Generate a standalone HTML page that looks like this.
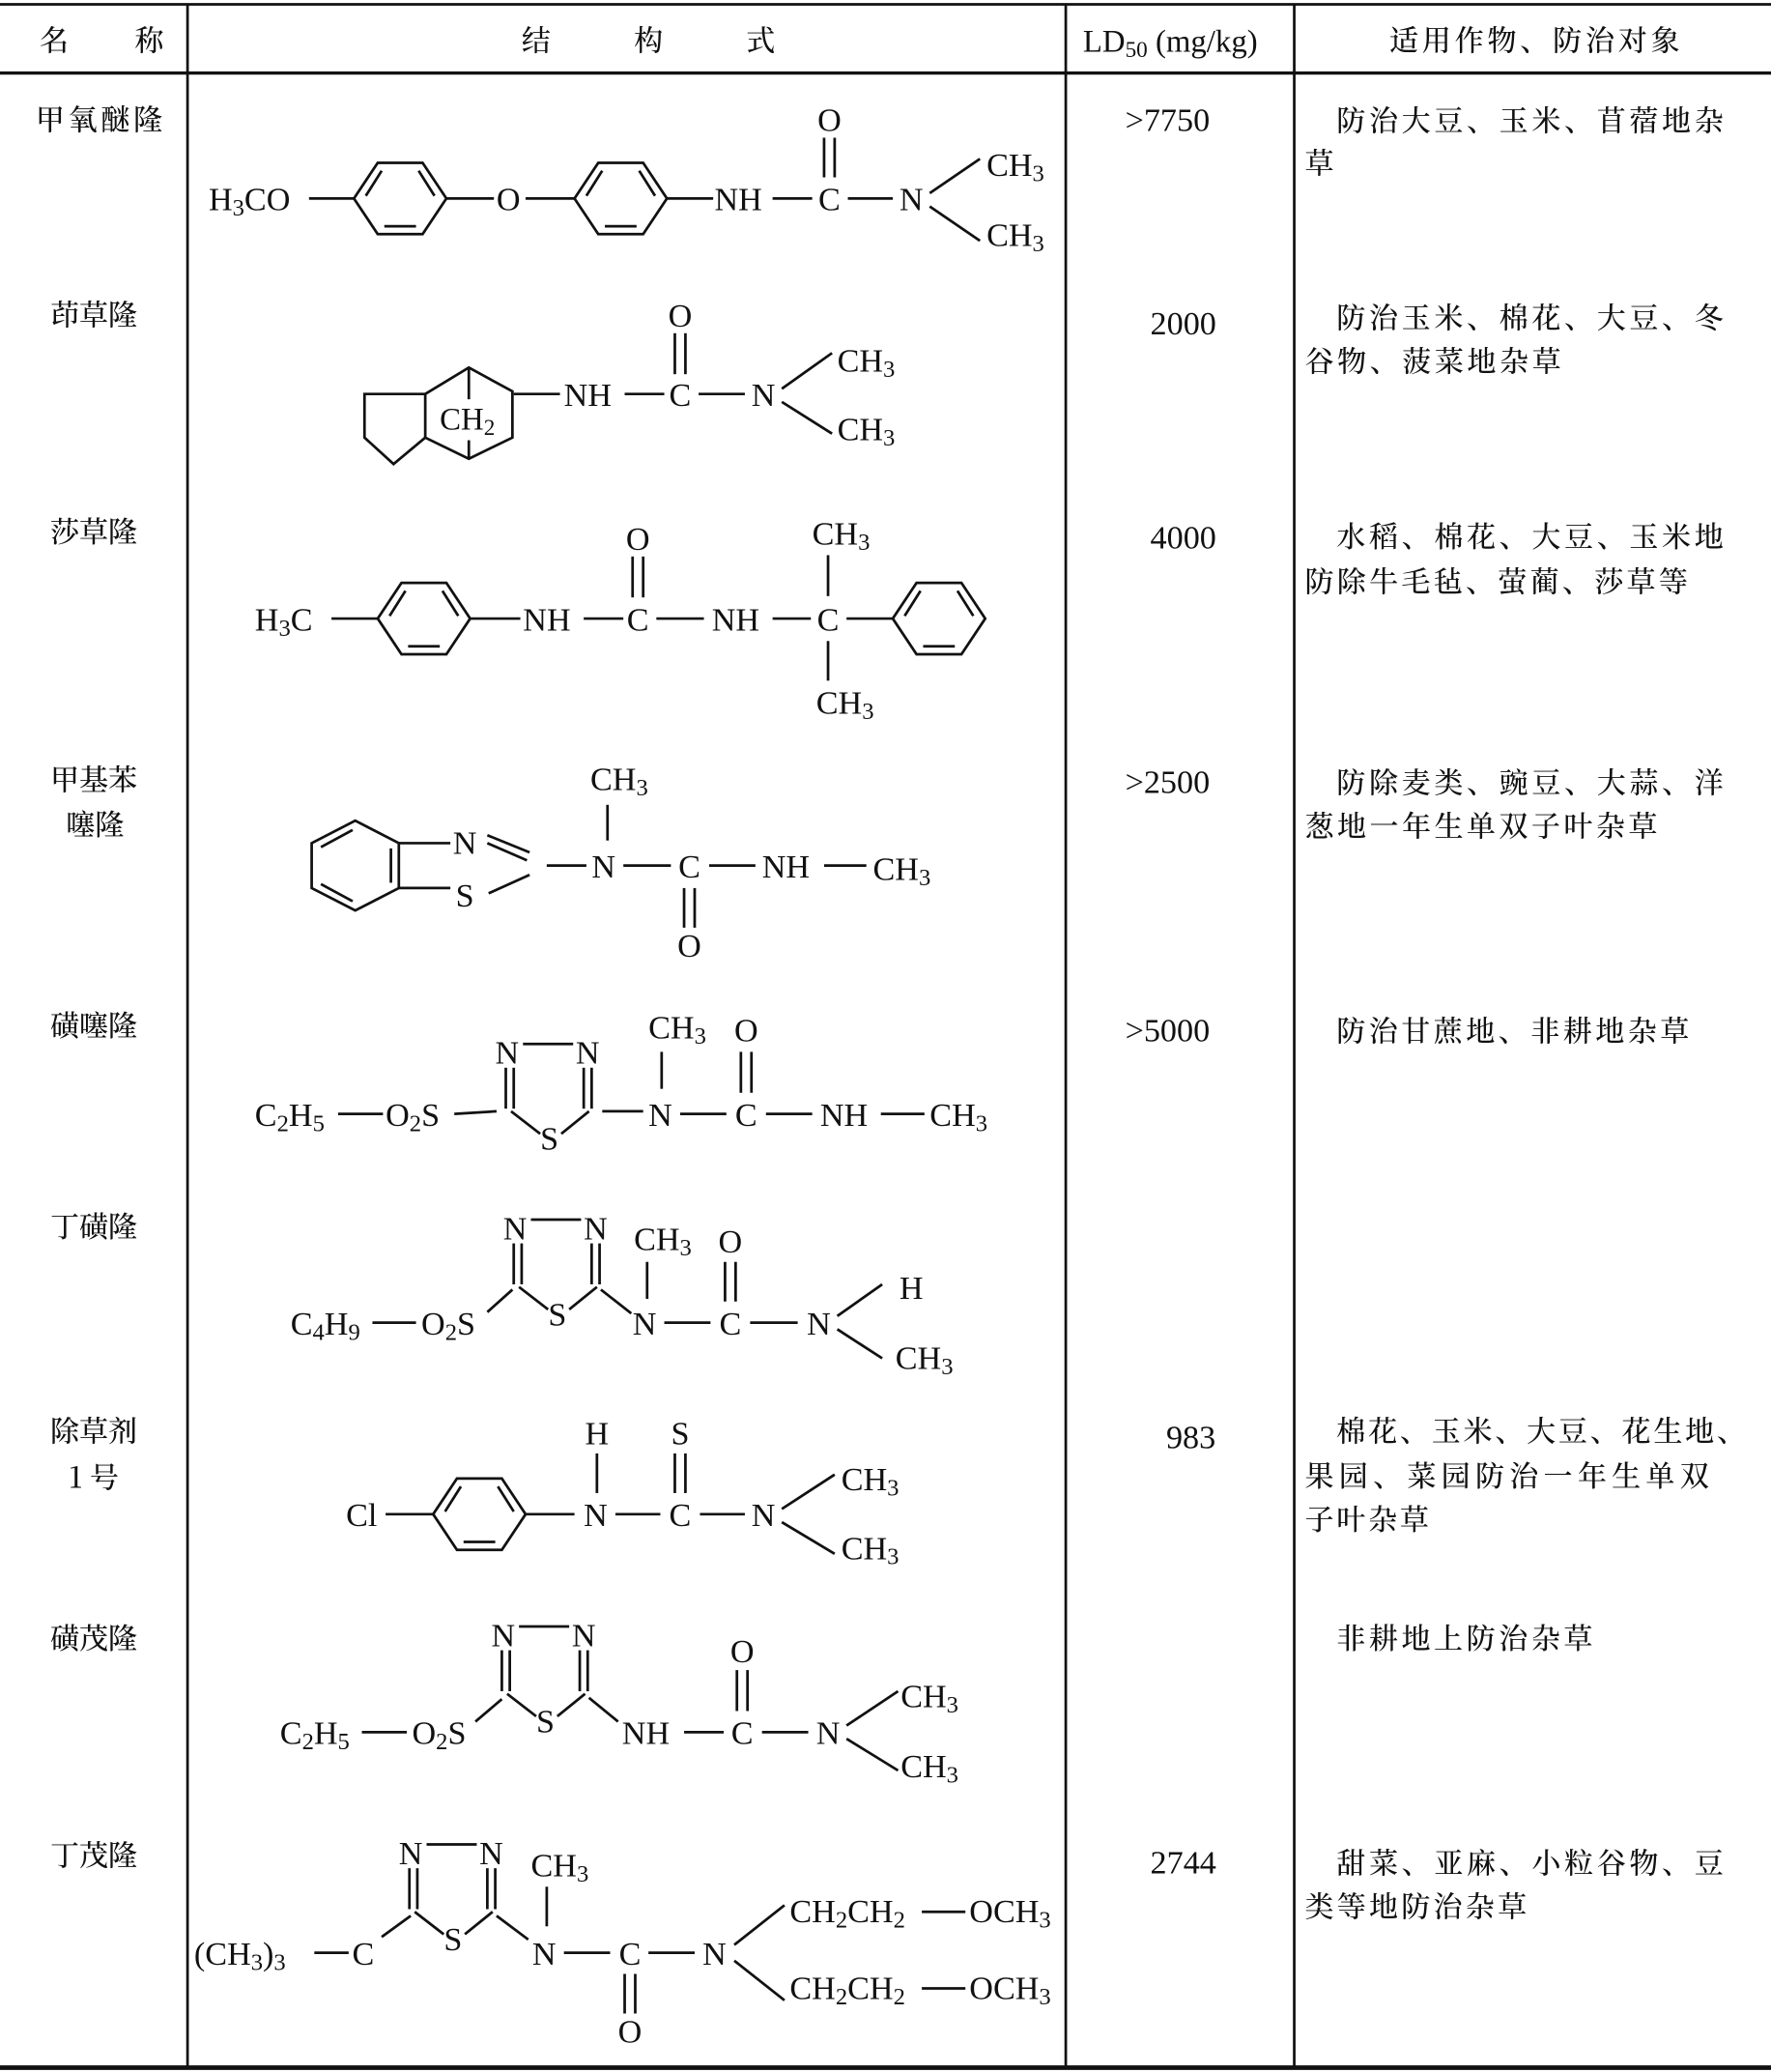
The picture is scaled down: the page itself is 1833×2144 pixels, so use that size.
<!DOCTYPE html>
<html><head><meta charset="utf-8"><style>
html,body{margin:0;padding:0;background:#fff;}
svg{display:block;}
text{font-family:"Liberation Serif","Noto Serif CJK SC",serif;fill:#111;font-size:25px;}
.c{font-family:"Noto Serif CJK SC","Liberation Serif",serif;font-size:22px;font-weight:500;}
line,polyline,polygon{stroke:#111;stroke-width:2;fill:none;}
</style></head><body>
<svg width="1833" height="2144" viewBox="0 0 1341 1568" xmlns="http://www.w3.org/2000/svg">
<defs>
<g id="bz">
<polygon points="-35,0 -17,-27 17,-27 35,0 17,27 -17,27"/>
<line x1="-26" y1="-2" x2="-14" y2="-21"/>
<line x1="26" y1="-2" x2="14" y2="-21"/>
<line x1="-12" y1="21" x2="12" y2="21"/>
</g>
<g id="td">
<line x1="10" y1="-51" x2="48" y2="-51"/>
<line x1="-3" y1="-33" x2="-3" y2="-2"/><line x1="3" y1="-33" x2="3" y2="-2"/>
<line x1="56" y1="-33" x2="56" y2="-2"/><line x1="62" y1="-33" x2="62" y2="-2"/>
<line x1="1" y1="0" x2="23" y2="17"/><line x1="60" y1="0" x2="39" y2="17"/>
<text x="-2" y="-36" text-anchor="middle">N</text>
<text x="59" y="-36" text-anchor="middle">N</text>
<text x="30" y="29" text-anchor="middle">S</text>
</g>
</defs>
<line x1="0" y1="3" x2="1341" y2="3" style="stroke-width:2"/>
<line x1="0" y1="55" x2="1341" y2="55" style="stroke-width:2.5"/>
<line x1="0" y1="1565" x2="1341" y2="1565" style="stroke-width:3.5"/>
<line x1="142" y1="3" x2="142" y2="1565"/>
<line x1="807" y1="3" x2="807" y2="1565"/>
<line x1="980" y1="3" x2="980" y2="1565"/>
<text class="c" x="30" y="38">名</text><text class="c" x="102" y="38">称</text>
<text class="c" x="395" y="38">结</text><text class="c" x="480" y="38">构</text><text class="c" x="565" y="38">式</text>
<text x="820" y="39" style="font-size:24px">LD<tspan font-size="17" dy="4">50</tspan><tspan dy="-4"> (mg/kg)</tspan></text>
<text class="c" x="1052" y="38" textLength="220">适用作物、防治对象</text>
<text class="c" x="27" y="98" textLength="96">甲氧醚隆</text>
<text class="c" x="38" y="246">茚草隆</text>
<text class="c" x="38" y="410">莎草隆</text>
<text class="c" x="38" y="598">甲基苯</text>
<text class="c" x="50" y="632">噻隆</text>
<text class="c" x="38" y="784">磺噻隆</text>
<text class="c" x="38" y="936">丁磺隆</text>
<text class="c" x="38" y="1091">除草剂</text>
<text class="c" x="52" y="1126">1 号</text>
<text class="c" x="38" y="1248">磺茂隆</text>
<text class="c" x="38" y="1412">丁茂隆</text>
<text x="852" y="99">&gt;7750</text>
<text x="871" y="253">2000</text>
<text x="871" y="415">4000</text>
<text x="852" y="600">&gt;2500</text>
<text x="852" y="788">&gt;5000</text>
<text x="883" y="1096">983</text>
<text x="871" y="1418">2744</text>
<text class="c" x="1012" y="99" textLength="293">防治大豆、玉米、苜蓿地杂</text>
<text class="c" x="988" y="131">草</text>
<text class="c" x="1012" y="248" textLength="293">防治玉米、棉花、大豆、冬</text>
<text class="c" x="988" y="281" textLength="194">谷物、菠菜地杂草</text>
<text class="c" x="1012" y="414" textLength="293">水稻、棉花、大豆、玉米地</text>
<text class="c" x="988" y="448" textLength="290">防除牛毛毡、萤蔺、莎草等</text>
<text class="c" x="1012" y="600" textLength="293">防除麦类、豌豆、大蒜、洋</text>
<text class="c" x="988" y="633" textLength="267">葱地一年生单双子叶杂草</text>
<text class="c" x="1012" y="788" textLength="267">防治甘蔗地、非耕地杂草</text>
<text class="c" x="1012" y="1091" textLength="310">棉花、玉米、大豆、花生地、</text>
<text class="c" x="988" y="1125" textLength="306">果园、菜园防治一年生单双</text>
<text class="c" x="988" y="1158" textLength="94">子叶杂草</text>
<text class="c" x="1012" y="1248" textLength="194">非耕地上防治杂草</text>
<text class="c" x="1012" y="1418" textLength="293">甜菜、亚麻、小粒谷物、豆</text>
<text class="c" x="988" y="1451" textLength="168">类等地防治杂草</text>

<!-- Row 1 -->
<text x="158" y="159">H<tspan font-size="18" dy="4">3</tspan><tspan dy="-4">CO</tspan></text>
<line x1="234" y1="150" x2="268" y2="150"/>
<use href="#bz" transform="translate(303,150)"/>
<line x1="338" y1="150" x2="374" y2="150"/>
<text x="385" y="159" text-anchor="middle">O</text>
<line x1="398" y1="150" x2="435" y2="150"/>
<use href="#bz" transform="translate(470,150)"/>
<line x1="505" y1="150" x2="540" y2="150"/>
<text x="541" y="159">NH</text>
<line x1="585" y1="150" x2="615" y2="150"/>
<text x="628" y="159" text-anchor="middle">C</text>
<line x1="624" y1="104" x2="624" y2="134"/><line x1="632" y1="104" x2="632" y2="134"/>
<text x="628" y="99" text-anchor="middle">O</text>
<line x1="642" y1="150" x2="676" y2="150"/>
<text x="690" y="159" text-anchor="middle">N</text>
<line x1="704" y1="146" x2="742" y2="120"/><line x1="704" y1="156" x2="742" y2="182"/>
<text x="747" y="133">CH<tspan font-size="18" dy="4">3</tspan></text>
<text x="747" y="186">CH<tspan font-size="18" dy="4">3</tspan></text>

<!-- Row 2 -->
<polyline points="322,298 276,298 276,331 298,351 322,331"/>
<polygon points="322,298 355,278 388,296 388,331 355,347 322,331"/>
<line x1="355" y1="278" x2="355" y2="302"/><line x1="355" y1="333" x2="355" y2="347"/>
<text x="333" y="325" style="font-size:24px">CH<tspan font-size="17" dy="4">2</tspan></text>
<line x1="389" y1="298" x2="424" y2="298"/>
<text x="427" y="307">NH</text>
<line x1="473" y1="298" x2="503" y2="298"/>
<text x="515" y="307" text-anchor="middle">C</text>
<line x1="511" y1="252" x2="511" y2="283"/><line x1="519" y1="252" x2="519" y2="283"/>
<text x="515" y="247" text-anchor="middle">O</text>
<line x1="529" y1="298" x2="564" y2="298"/>
<text x="578" y="307" text-anchor="middle">N</text>
<line x1="592" y1="294" x2="630" y2="267"/><line x1="592" y1="304" x2="630" y2="328"/>
<text x="634" y="281">CH<tspan font-size="18" dy="4">3</tspan></text>
<text x="634" y="333">CH<tspan font-size="18" dy="4">3</tspan></text>

<!-- Row 3 -->
<text x="193" y="477">H<tspan font-size="18" dy="4">3</tspan><tspan dy="-4">C</tspan></text>
<line x1="251" y1="468" x2="287" y2="468"/>
<use href="#bz" transform="translate(321,468)"/>
<line x1="356" y1="468" x2="394" y2="468"/>
<text x="396" y="477">NH</text>
<line x1="442" y1="468" x2="472" y2="468"/>
<text x="483" y="477" text-anchor="middle">C</text>
<line x1="479" y1="421" x2="479" y2="452"/><line x1="487" y1="421" x2="487" y2="452"/>
<text x="483" y="416" text-anchor="middle">O</text>
<line x1="497" y1="468" x2="533" y2="468"/>
<text x="539" y="477">NH</text>
<line x1="585" y1="468" x2="614" y2="468"/>
<text x="627" y="477" text-anchor="middle">C</text>
<line x1="627" y1="420" x2="627" y2="451"/><line x1="627" y1="485" x2="627" y2="515"/>
<text x="615" y="412">CH<tspan font-size="18" dy="4">3</tspan></text>
<text x="618" y="540">CH<tspan font-size="18" dy="4">3</tspan></text>
<line x1="641" y1="468" x2="676" y2="468"/>
<use href="#bz" transform="translate(711,468)"/>

<!-- Row 4 -->
<polygon points="269,621 302,638 302,672 269,689 236,672 236,638"/>
<line x1="243" y1="641" x2="267" y2="628"/>
<line x1="296" y1="642" x2="296" y2="668"/>
<line x1="243" y1="669" x2="267" y2="682"/>
<line x1="302" y1="638" x2="341" y2="638"/>
<line x1="302" y1="672" x2="341" y2="672"/>
<text x="352" y="646" text-anchor="middle">N</text>
<text x="352" y="686" text-anchor="middle">S</text>
<line x1="369" y1="632" x2="401" y2="645"/><line x1="369" y1="638" x2="399" y2="651"/>
<line x1="370" y1="676" x2="401" y2="662"/>
<line x1="414" y1="655" x2="444" y2="655"/>
<text x="457" y="664" text-anchor="middle">N</text>
<line x1="460" y1="609" x2="460" y2="636"/>
<text x="447" y="598">CH<tspan font-size="18" dy="4">3</tspan></text>
<line x1="472" y1="655" x2="508" y2="655"/>
<text x="522" y="664" text-anchor="middle">C</text>
<line x1="518" y1="672" x2="518" y2="702"/><line x1="526" y1="672" x2="526" y2="702"/>
<text x="522" y="724" text-anchor="middle">O</text>
<line x1="537" y1="655" x2="572" y2="655"/>
<text x="577" y="664">NH</text>
<line x1="624" y1="655" x2="656" y2="655"/>
<text x="661" y="666">CH<tspan font-size="18" dy="4">3</tspan></text>

<!-- Row 5 -->
<text x="193" y="852">C<tspan font-size="18" dy="4">2</tspan><tspan dy="-4">H</tspan><tspan font-size="18" dy="4">5</tspan></text>
<line x1="256" y1="843" x2="290" y2="843"/>
<text x="292" y="852">O<tspan font-size="18" dy="4">2</tspan><tspan dy="-4">S</tspan></text>
<line x1="344" y1="843" x2="376" y2="841"/>
<use href="#td" transform="translate(386,841)"/>
<line x1="456" y1="841" x2="487" y2="841"/>
<text x="500" y="852" text-anchor="middle">N</text>
<line x1="501" y1="796" x2="501" y2="824"/>
<text x="491" y="786">CH<tspan font-size="18" dy="4">3</tspan></text>
<line x1="515" y1="843" x2="550" y2="843"/>
<text x="565" y="852" text-anchor="middle">C</text>
<line x1="561" y1="796" x2="561" y2="827"/><line x1="569" y1="796" x2="569" y2="827"/>
<text x="565" y="788" text-anchor="middle">O</text>
<line x1="580" y1="843" x2="615" y2="843"/>
<text x="621" y="852">NH</text>
<line x1="667" y1="843" x2="700" y2="843"/>
<text x="704" y="852">CH<tspan font-size="18" dy="4">3</tspan></text>

<!-- Row 6 -->
<text x="220" y="1010">C<tspan font-size="18" dy="4">4</tspan><tspan dy="-4">H</tspan><tspan font-size="18" dy="4">9</tspan></text>
<line x1="282" y1="1001" x2="315" y2="1001"/>
<text x="319" y="1010">O<tspan font-size="18" dy="4">2</tspan><tspan dy="-4">S</tspan></text>
<line x1="369" y1="993" x2="388" y2="976"/>
<use href="#td" transform="translate(392,974)"/>
<line x1="455" y1="976" x2="478" y2="994"/>
<text x="488" y="1010" text-anchor="middle">N</text>
<line x1="490" y1="955" x2="490" y2="983"/>
<text x="480" y="946">CH<tspan font-size="18" dy="4">3</tspan></text>
<line x1="503" y1="1001" x2="538" y2="1001"/>
<text x="553" y="1010" text-anchor="middle">C</text>
<line x1="549" y1="955" x2="549" y2="985"/><line x1="557" y1="955" x2="557" y2="985"/>
<text x="553" y="948" text-anchor="middle">O</text>
<line x1="568" y1="1001" x2="604" y2="1001"/>
<text x="620" y="1010" text-anchor="middle">N</text>
<line x1="634" y1="996" x2="668" y2="972"/><line x1="634" y1="1006" x2="668" y2="1028"/>
<text x="690" y="983" text-anchor="middle">H</text>
<text x="678" y="1036">CH<tspan font-size="18" dy="4">3</tspan></text>

<!-- Row 7 -->
<text x="262" y="1155">Cl</text>
<line x1="292" y1="1146" x2="328" y2="1146"/>
<use href="#bz" transform="translate(363,1146)"/>
<line x1="398" y1="1146" x2="435" y2="1146"/>
<text x="451" y="1155" text-anchor="middle">N</text>
<line x1="452" y1="1100" x2="452" y2="1130"/>
<text x="452" y="1093" text-anchor="middle">H</text>
<line x1="466" y1="1146" x2="500" y2="1146"/>
<text x="515" y="1155" text-anchor="middle">C</text>
<line x1="511" y1="1100" x2="511" y2="1130"/><line x1="519" y1="1100" x2="519" y2="1130"/>
<text x="515" y="1093" text-anchor="middle">S</text>
<line x1="530" y1="1146" x2="564" y2="1146"/>
<text x="578" y="1155" text-anchor="middle">N</text>
<line x1="592" y1="1142" x2="632" y2="1116"/><line x1="592" y1="1152" x2="632" y2="1176"/>
<text x="637" y="1128">CH<tspan font-size="18" dy="4">3</tspan></text>
<text x="637" y="1180">CH<tspan font-size="18" dy="4">3</tspan></text>

<!-- Row 8 -->
<text x="212" y="1320">C<tspan font-size="18" dy="4">2</tspan><tspan dy="-4">H</tspan><tspan font-size="18" dy="4">5</tspan></text>
<line x1="274" y1="1311" x2="308" y2="1311"/>
<text x="312" y="1320">O<tspan font-size="18" dy="4">2</tspan><tspan dy="-4">S</tspan></text>
<line x1="360" y1="1303" x2="380" y2="1286"/>
<use href="#td" transform="translate(383,1282)"/>
<line x1="446" y1="1285" x2="468" y2="1303"/>
<text x="471" y="1320">NH</text>
<line x1="518" y1="1311" x2="548" y2="1311"/>
<text x="562" y="1320" text-anchor="middle">C</text>
<line x1="558" y1="1264" x2="558" y2="1295"/><line x1="566" y1="1264" x2="566" y2="1295"/>
<text x="562" y="1258" text-anchor="middle">O</text>
<line x1="577" y1="1311" x2="612" y2="1311"/>
<text x="627" y="1320" text-anchor="middle">N</text>
<line x1="641" y1="1306" x2="680" y2="1280"/><line x1="641" y1="1316" x2="680" y2="1340"/>
<text x="682" y="1292">CH<tspan font-size="18" dy="4">3</tspan></text>
<text x="682" y="1345">CH<tspan font-size="18" dy="4">3</tspan></text>

<!-- Row 9 -->
<text x="147" y="1487">(CH<tspan font-size="18" dy="4">3</tspan><tspan dy="-4">)</tspan><tspan font-size="18" dy="4">3</tspan></text>
<line x1="238" y1="1478" x2="264" y2="1478"/>
<text x="275" y="1487" text-anchor="middle">C</text>
<line x1="289" y1="1466" x2="311" y2="1450"/>
<use href="#td" transform="translate(313,1447)"/>
<line x1="376" y1="1450" x2="400" y2="1468"/>
<text x="412" y="1487" text-anchor="middle">N</text>
<line x1="414" y1="1428" x2="414" y2="1458"/>
<text x="402" y="1420">CH<tspan font-size="18" dy="4">3</tspan></text>
<line x1="427" y1="1478" x2="462" y2="1478"/>
<text x="477" y="1487" text-anchor="middle">C</text>
<line x1="473" y1="1494" x2="473" y2="1524"/><line x1="481" y1="1494" x2="481" y2="1524"/>
<text x="477" y="1546" text-anchor="middle">O</text>
<line x1="491" y1="1478" x2="526" y2="1478"/>
<text x="541" y="1487" text-anchor="middle">N</text>
<line x1="556" y1="1472" x2="594" y2="1442"/><line x1="556" y1="1484" x2="594" y2="1514"/>
<text x="598" y="1455">CH<tspan font-size="18" dy="4">2</tspan><tspan dy="-4">CH</tspan><tspan font-size="18" dy="4">2</tspan></text>
<line x1="698" y1="1447" x2="731" y2="1447"/>
<text x="734" y="1455">OCH<tspan font-size="18" dy="4">3</tspan></text>
<text x="598" y="1513">CH<tspan font-size="18" dy="4">2</tspan><tspan dy="-4">CH</tspan><tspan font-size="18" dy="4">2</tspan></text>
<line x1="698" y1="1505" x2="731" y2="1505"/>
<text x="734" y="1513">OCH<tspan font-size="18" dy="4">3</tspan></text>
</svg>
</body></html>
